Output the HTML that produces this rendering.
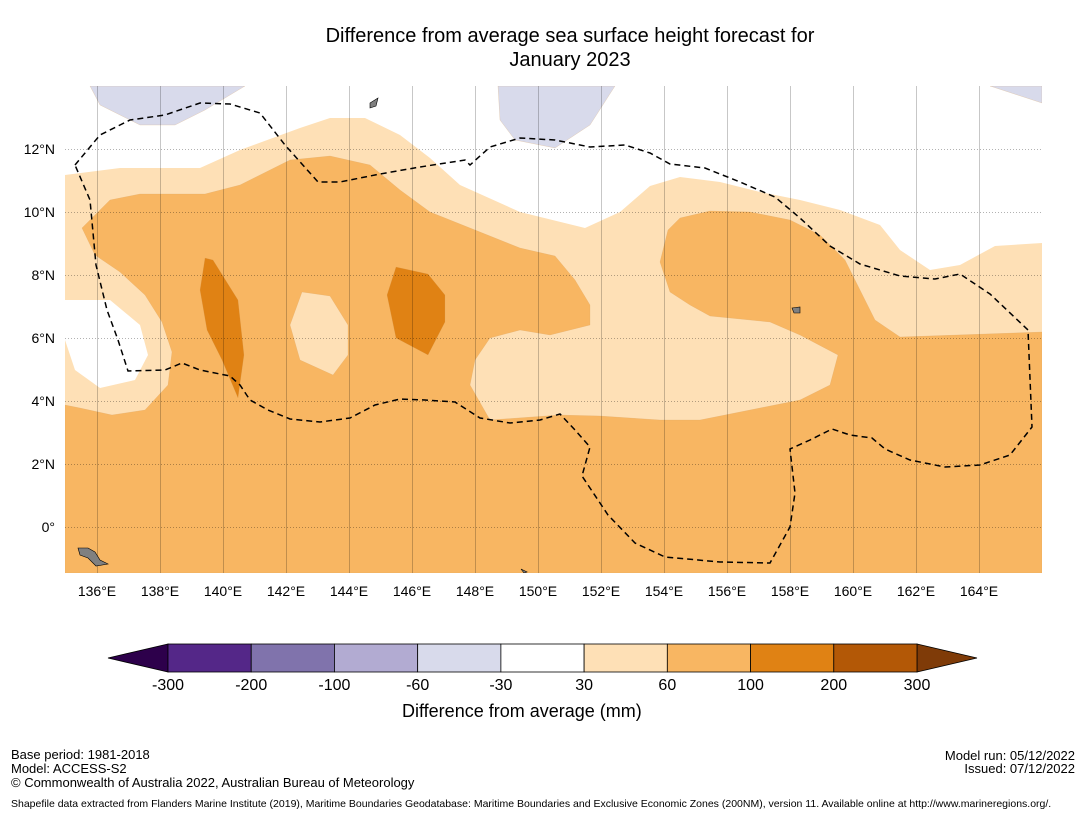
<!DOCTYPE html>
<html><head><meta charset="utf-8">
<style>
body{margin:0;background:#fff;font-family:"Liberation Sans",sans-serif;}
#wrap{position:relative;width:1085px;height:816px;overflow:hidden;background:#fff;}
.t{position:absolute;color:#000;white-space:nowrap;}
</style></head><body>
<div id="wrap">
<div class="t" style="left:0;width:1140px;top:24px;text-align:center;font-size:20px;line-height:24px;">Difference from average sea surface height forecast for<br>January 2023</div>
<svg id="svg" width="1085" height="816" style="position:absolute;left:0;top:0"></svg>
<div class="t" style="left:402px;top:701px;font-size:18px;">Difference from average (mm)</div>
<div class="t" style="left:11px;top:748px;font-size:13px;line-height:14px;">Base period: 1981-2018<br>Model: ACCESS-S2<br>© Commonwealth of Australia 2022, Australian Bureau of Meteorology</div>
<div class="t" style="right:10px;top:749px;font-size:13px;line-height:13px;text-align:right;">Model run: 05/12/2022<br>Issued: 07/12/2022</div>
<div class="t" style="left:11px;top:798px;font-size:10.5px;">Shapefile data extracted from Flanders Marine Institute (2019), Maritime Boundaries Geodatabase: Maritime Boundaries and Exclusive Economic Zones (200NM), version 11. Available online at http://www.marineregions.org/.</div>
</div>
<script>
const lonTicks=[136,138,140,142,144,146,148,150,152,154,156,158,160,162,164];
const latTicks=[0,2,4,6,8,10,12];
const cbBounds=["-300","-200","-100","-60","-30","30","60","100","200","300"];
const cbColors=["#542788","#8073ac","#b2abd2","#d8daeb","#ffffff","#fee0b6","#f8b662","#e08214","#b35806"];
const cbExt=["#2d004b","#7f3b08"];
const X=lon=>97+(lon-136)*31.5, Y=lat=>527-lat*31.5;
const svg=document.getElementById('svg');const NS='http://www.w3.org/2000/svg';
function mk(t,a,p){const e=document.createElementNS(NS,t);for(const k in a)e.setAttribute(k,a[k]);(p||svg).appendChild(e);return e;}
const clip=mk('clipPath',{id:'mc'});mk('rect',{x:65,y:86,width:977,height:487},clip);
const g=mk('g',{'clip-path':'url(#mc)'});


function poly(pts,fill,name){const e=mk('polygon',{points:pts,fill:fill,stroke:fill==='#ffffff'?'none':'#d8a060','stroke-width':0.4,'stroke-opacity':0.5},g);

return e;}
mk('rect',{x:65,y:86,width:977,height:487,fill:'#fee0b6'},g);
poly("65,86 1042,86 1042,243 995,246 960,265 930,270 900,250 880,225 840,210 800,200 760,192 720,182 680,177 650,186 620,212 585,228 520,212 460,185 430,158 400,135 365,118 330,118 300,128 240,150 200,168 120,168 65,175","#ffffff","white-region-north");
poly("65,300 110,300 140,325 148,355 135,380 100,388 75,370 65,340","#ffffff","white-region-west");
poly("90,86 100,105 140,125 175,125 205,110 245,86","#d8daeb","negative-region-1");
poly("498,86 500,120 515,140 555,148 590,125 615,86","#d8daeb","negative-region-2");
poly("990,86 1042,103 1042,86","#d8daeb","negative-region-3");
poly("82,228 110,200 140,194 205,194 240,185 290,160 330,156 370,165 400,190 430,212 470,228 520,248 555,256 575,280 590,305 590,325 550,335 520,330 490,338 475,360 470,385 490,420 560,415 600,416 660,420 700,420 760,408 800,400 830,385 838,355 800,335 770,322 710,316 690,305 670,292 660,262 668,230 680,218 710,211 750,212 790,220 820,235 845,260 860,290 875,320 900,337 1042,332 1042,573 65,573 65,405 80,408 112,415 145,410 168,385 172,352 162,322 145,295 120,272 95,255","#f8b662","anomaly-60-100");
poly("290,325 302,292 330,296 348,325 348,355 333,375 300,360","#fee0b6","anomaly-30-60-island");
poly("205,258 213,260 238,300 244,355 238,398 222,360 207,330 200,290","#e08214","anomaly-100-200-a");
poly("396,267 428,274 445,295 445,322 428,355 396,338 387,295","#e08214","anomaly-100-200-b");
lonTicks.forEach(l=>{const e=mk('line',{x1:Math.round(X(l))+0.5,x2:Math.round(X(l))+0.5,y1:86,y2:573,stroke:'#000','stroke-opacity':0.22,'stroke-width':1},g);


const t=mk('text',{x:X(l),y:596,'text-anchor':'middle','font-size':14,'font-family':'Liberation Sans'});t.textContent=l+'°E';

});
latTicks.forEach(l=>{const e=mk('line',{x1:65,x2:1042,y1:Math.round(Y(l))+0.5,y2:Math.round(Y(l))+0.5,stroke:'#000','stroke-opacity':0.3,'stroke-width':1,'stroke-dasharray':'1,2'},g);


const t=mk('text',{x:55,y:Y(l)+5,'text-anchor':'end','font-size':14,'font-family':'Liberation Sans'});t.textContent=l===0?'0°':l+'°N';

});
const eez=["75,165 100,135 130,120 165,115 200,103 230,104 260,113 285,145 318,182 340,182 380,174 420,167 465,160 470,165 490,147 520,138 555,140 590,147 625,145 650,153 670,164 705,168 740,182 775,197 800,218 830,246 860,264 900,276 935,279 960,274 990,294 1028,330 1032,427 1010,455 980,465 945,467 910,460 885,449 872,438 850,435 832,429 810,440 790,449 795,493 790,527 770,563 720,562 665,557 635,543 608,515 582,476 590,447 575,430 560,414 540,420 510,423 480,418 455,402 425,400 400,399 375,405 350,418 320,422 290,419 268,410 250,400 240,385 230,376 200,370 182,363 165,370 128,371 118,340 107,310 96,265 90,200 75,165"];
eez.forEach(p=>{const e=mk('polyline',{points:p,fill:'none',stroke:'#000','stroke-width':1.5,'stroke-dasharray':'6,4'},g);

});
[["78,548 88,548 95,552 100,560 108,564 96,566 88,558 80,555"],["370,103 378,98 376,106 370,108"],["792,308 800,307 800,313 794,313"],["521,569 527,572 524,573"]].forEach(p=>{const e=mk('polygon',{points:p[0],fill:'#808080',stroke:'#000','stroke-width':0.6},g);

});
const cb=mk('g',{});


const cbL=168,cbR=917,cbT=644,cbH=28,w=(cbR-cbL)/cbColors.length;
let e=mk('polygon',{points:`108,${cbT+cbH/2} ${cbL},${cbT} ${cbL},${cbT+cbH}`,fill:cbExt[0],stroke:'#000','stroke-width':0.8},cb);


e=mk('polygon',{points:`977,${cbT+cbH/2} ${cbR},${cbT} ${cbR},${cbT+cbH}`,fill:cbExt[1],stroke:'#000','stroke-width':0.8},cb);


cbColors.forEach((c,i)=>{const r=mk('rect',{x:cbL+i*w,y:cbT,width:w,height:cbH,fill:c,stroke:'#000','stroke-width':0.8},cb);

});
cbBounds.forEach((b,i)=>{const t=mk('text',{x:cbL+i*w,y:690,'text-anchor':'middle','font-size':16,'font-family':'Liberation Sans'},cb);t.textContent=b;

});
</script>
</body></html>
